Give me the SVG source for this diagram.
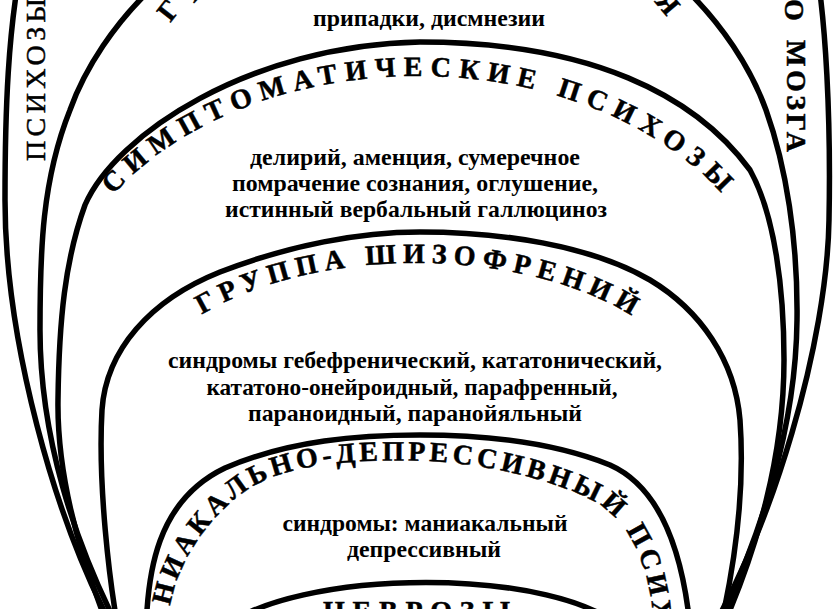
<svg xmlns="http://www.w3.org/2000/svg" width="840" height="609" viewBox="0 0 840 609">
<defs>
<style>
.c{fill:none;stroke:#000;stroke-width:5.5;stroke-linecap:round;stroke-linejoin:round}
.t{font-family:"Liberation Serif","DejaVu Serif",serif;font-weight:bold;font-size:23px;fill:#000;text-anchor:middle}
.a{font-family:"Liberation Serif","DejaVu Serif",serif;font-weight:bold;font-size:28px;fill:#000;stroke:#000;stroke-width:0.5}
.v{font-family:"Liberation Serif","DejaVu Serif",serif;font-size:28px;fill:#000;stroke:#000;stroke-width:0.5}
</style>
<path id="pC" d="M 58,330 A 360 254 0 0 1 778,330"/>
<path id="pD" d="M 127,420 A 289 157 0 0 1 705,420"/>
<path id="pE" d="M 170,612 C 172,572 207,514 252,487 C 292,463 360,459 420,461 C 480,462 558,480 598,504 C 628,522 648,562 653,615"/>
</defs>
<rect width="840" height="609" fill="#fff"/>
<g id="organic-psychoses">
<path class="c" d="M 125,650 C 50,520 5,330 5,200 C 5,110 8,30 22,-40 C 40,-120 230,-220 420,-220 C 610,-220 800,-120 815,-40 C 826,20 831,120 829,220 C 827,340 775,525 700,650"/>
<text class="v" transform="translate(45,161) rotate(-90)" letter-spacing="4.4">ПСИХОЗЫ</text>
<text class="a" font-size="29" transform="translate(785,-1) rotate(90)">О</text>
<text class="a" font-size="29" transform="translate(787,40) rotate(90)" letter-spacing="3.5">МОЗГА</text>
</g>
<g id="epilepsy">
<path class="c" d="M 130,650 C 70,540 40,430 40,330 C 40,250 42,180 70,110 C 95,40 190,-110 420,-110 C 646,-110 741,40 766,110 C 786,166 798,240 797,320 C 796,420 765,535 705,650"/>
<text class="a" text-anchor="middle" dy=".35em" transform="translate(168,10) rotate(-52)">Г</text>
<text class="a" text-anchor="middle" dy=".35em" transform="translate(193,-10) rotate(-47)">Е</text>
<text class="a" text-anchor="middle" dy=".35em" transform="translate(668,3) rotate(50)">Я</text>
<text class="t" x="429" y="26" textLength="232" lengthAdjust="spacingAndGlyphs">припадки, дисмнезии</text>
</g>
<g id="symptomatic-psychoses">
<path class="c" d="M 118,650 C 75,550 57,470 58,400 C 59,320 65,260 85,205 C 115,135 250,45 420,42 C 590,42 695,95 750,170 C 775,215 784,290 784,360 C 784,450 760,550 712,650"/>
<text class="a" letter-spacing="7.9"><textPath href="#pC" startOffset="149">СИМПТОМАТИЧЕСКИЕ ПСИХОЗЫ</textPath></text>
<text class="t" x="415" y="165" textLength="330" lengthAdjust="spacingAndGlyphs">делирий, аменция, сумеречное</text>
<text class="t" x="415" y="191" textLength="366" lengthAdjust="spacingAndGlyphs">помрачение сознания, оглушение,</text>
<text class="t" x="416" y="217" textLength="382" lengthAdjust="spacingAndGlyphs">истинный вербальный галлюциноз</text>
</g>
<g id="schizophrenia">
<path class="c" d="M 122,650 C 108,580 98,480 102,410 C 106,350 150,300 220,272 C 290,245 360,232 420,232 C 500,232 590,245 650,280 C 700,310 735,360 740,420 C 745,490 735,570 715,650"/>
<text class="a" letter-spacing="6.7"><textPath href="#pD" startOffset="135">ГРУППА ШИЗОФРЕНИЙ</textPath></text>
<text class="t" x="415" y="368" textLength="494" lengthAdjust="spacingAndGlyphs">синдромы гебефренический, кататонический,</text>
<text class="t" x="412" y="395" textLength="411" lengthAdjust="spacingAndGlyphs">кататоно-онейроидный, парафренный,</text>
<text class="t" x="415" y="421" textLength="334" lengthAdjust="spacingAndGlyphs">параноидный, паранойяльный</text>
</g>
<g id="manic-depressive">
<path class="c" d="M 146,650 C 145,570 158,500 225,468 C 290,440 360,435 420,435 C 500,435 560,445 610,465 C 655,485 685,540 692,650"/>
<text class="a" letter-spacing="4"><textPath href="#pE" startOffset="6">НИАКАЛЬНО-ДЕПРЕССИВНЫЙ ПСИХ</textPath></text>
<text class="t" x="425" y="531" textLength="285" lengthAdjust="spacingAndGlyphs">синдромы: маниакальный</text>
<text class="t" x="424" y="557" textLength="154" lengthAdjust="spacingAndGlyphs">депрессивный</text>
</g>
<g id="neuroses">
<path class="c" d="M 218,632 C 290,566 565,566 625,632"/>
<text class="a" x="323" y="620" letter-spacing="7.8">НЕВРОЗЫ</text>
</g>
<g id="connectors"/>
</svg>
